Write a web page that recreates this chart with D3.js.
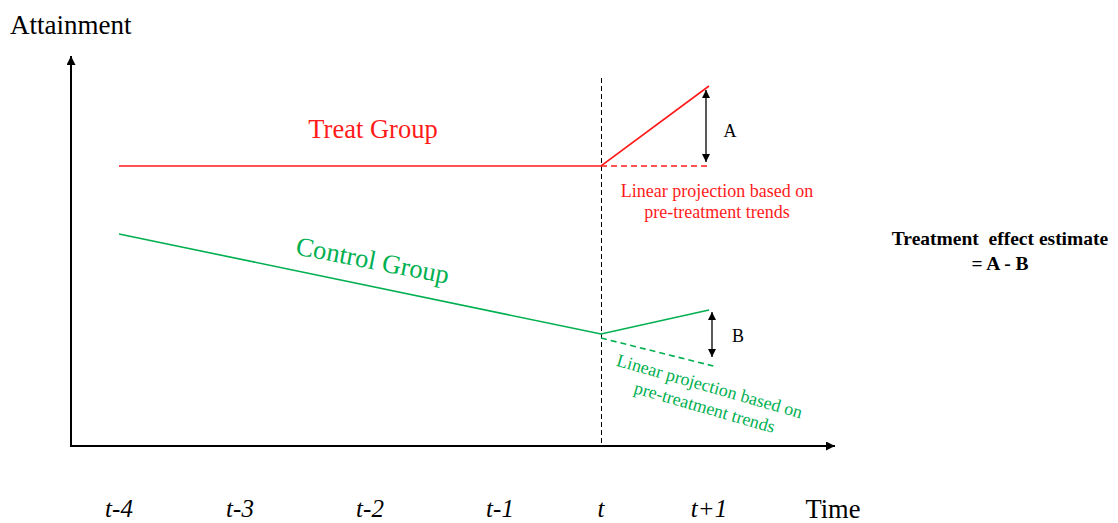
<!DOCTYPE html>
<html lang="en">
<head>
  <meta charset="UTF-8">
  <title>Difference in differences</title>
  <style>
    body { margin: 0; background: #fff; }
    text { font-family: "Liberation Serif", "Times New Roman", serif; }
  </style>
</head>
<body>
  <script src="https://d3js.org/d3.v7.min.js"></script>
  <script>

    // time periods and their labels
    const periods = [-4, -3, -2, -1, 0, 1]
    const tickLabels = ['t-4', 't-3', 't-2', 't-1', 't', 't+1']

    // attainment (arbitrary units)
    const treatTime = [-4, 0, 1]
    const treatValues = [70, 70, 90]
    const treatProjection = [70, 70]          // at t and t+1

    const controlTime = [-4, 0, 1]
    const controlValues = [53, 28, 34]
    const controlProjection = [27, 20]        // at t and t+1

    const width = 1118, height = 523
    const red = '#ff1a1a', green = '#00b050'

    const svg = d3.select('body')
      .append('svg')
      .attr('width', width)
      .attr('height', height)

    const x = d3.scaleLinear()
      .domain(periods)
      .range([119, 240, 370, 500, 601, 709])

    const y = d3.scaleLinear()
      .domain([0, 100])
      .range([446, 46])

    const line = d3.line()
      .x(d => x(d[0]))
      .y(d => y(d[1]))

    const defs = svg.append('defs')
    defs.append('marker')
      .attr('id', 'head')
      .attr('viewBox', '0 0 10 10')
      .attr('refX', 10).attr('refY', 5)
      .attr('markerWidth', 9).attr('markerHeight', 9)
      .attr('markerUnits', 'userSpaceOnUse')
      .attr('orient', 'auto-start-reverse')
      .append('path')
      .attr('d', 'M0,0L10,5L0,10Z')
      .attr('fill', '#000')

    defs.append('marker')
      .attr('id', 'small')
      .attr('viewBox', '0 0 10 10')
      .attr('refX', 10).attr('refY', 5)
      .attr('markerWidth', 8).attr('markerHeight', 8)
      .attr('markerUnits', 'userSpaceOnUse')
      .attr('orient', 'auto-start-reverse')
      .append('path')
      .attr('d', 'M0,0L10,5L0,10Z')
      .attr('fill', '#000')

    // axes
    svg.append('line')
      .attr('x1', 71).attr('y1', y(0))
      .attr('x2', 71).attr('y2', 56)
      .attr('stroke', '#000').attr('stroke-width', 2)
      .attr('marker-end', 'url(#head)')
    svg.append('line')
      .attr('x1', 70).attr('y1', y(0))
      .attr('x2', 835).attr('y2', y(0))
      .attr('stroke', '#000').attr('stroke-width', 2)
      .attr('marker-end', 'url(#head)')

    svg.append('text')
      .attr('x', 10).attr('y', 34)
      .attr('font-size', 27)
      .text('Attainment')

    svg.append('text')
      .attr('x', 833).attr('y', 518)
      .attr('text-anchor', 'middle')
      .attr('font-size', 26.5)
      .text('Time')

    svg.append('g')
      .selectAll('text')
      .data(periods)
      .join('text')
      .attr('x', d => x(d))
      .attr('y', 517)
      .attr('text-anchor', 'middle')
      .attr('font-size', 25)
      .attr('font-style', 'italic')
      .text((d, i) => tickLabels[i])

    // treatment moment
    svg.append('line')
      .attr('x1', x(0) + 0.5).attr('y1', 78)
      .attr('x2', x(0) + 0.5).attr('y2', y(0))
      .attr('stroke', '#000').attr('stroke-width', 1)
      .attr('stroke-dasharray', '5,3')

    // treat group
    svg.append('path')
      .attr('d', line(treatTime.map((t, i) => [t, treatValues[i]])))
      .attr('fill', 'none').attr('stroke', red).attr('stroke-width', 1.6)
    svg.append('path')
      .attr('d', line([[0, treatProjection[0]], [1, treatProjection[1]]]))
      .attr('fill', 'none').attr('stroke', red).attr('stroke-width', 1.6)
      .attr('stroke-dasharray', '6,4')

    svg.append('text')
      .attr('x', 373).attr('y', 138)
      .attr('text-anchor', 'middle')
      .attr('font-size', 26.5)
      .attr('fill', red)
      .text('Treat Group')

    svg.append('line')
      .attr('x1', 706).attr('y1', y(treatValues[2]) + 4)
      .attr('x2', 706).attr('y2', y(treatProjection[1]) - 4)
      .attr('stroke', '#000').attr('stroke-width', 1.3)
      .attr('marker-start', 'url(#small)')
      .attr('marker-end', 'url(#small)')
    svg.append('text')
      .attr('x', 730).attr('y', 137)
      .attr('text-anchor', 'middle')
      .attr('font-size', 18)
      .text('A')

    svg.append('g')
      .selectAll('text')
      .data(['Linear projection based on', 'pre-treatment trends'])
      .join('text')
      .attr('x', 717)
      .attr('y', (d, i) => 197 + i * 21)
      .attr('text-anchor', 'middle')
      .attr('font-size', 18)
      .attr('fill', red)
      .text(d => d)

    // control group
    svg.append('path')
      .attr('d', line(controlTime.map((t, i) => [t, controlValues[i]])))
      .attr('fill', 'none').attr('stroke', green).attr('stroke-width', 1.6)
    svg.append('path')
      .attr('d', line([[0, controlProjection[0]], [1.04, controlProjection[1]]]))
      .attr('fill', 'none').attr('stroke', green).attr('stroke-width', 1.6)
      .attr('stroke-dasharray', '6,4')

    svg.append('text')
      .attr('transform', 'translate(371,269) rotate(11)')
      .attr('text-anchor', 'middle')
      .attr('font-size', 26.5)
      .attr('fill', green)
      .text('Control Group')

    svg.append('line')
      .attr('x1', 712).attr('y1', y(controlValues[2]) + 2)
      .attr('x2', 712).attr('y2', 357)
      .attr('stroke', '#000').attr('stroke-width', 1.3)
      .attr('marker-start', 'url(#small)')
      .attr('marker-end', 'url(#small)')
    svg.append('text')
      .attr('x', 738).attr('y', 342)
      .attr('text-anchor', 'middle')
      .attr('font-size', 18)
      .text('B')

    svg.append('g')
      .selectAll('text')
      .data(['Linear projection based on', 'pre-treatment trends'])
      .join('text')
      .attr('transform', (d, i) => `translate(${708 - i * 5},${392 + i * 21}) rotate(16)`)
      .attr('text-anchor', 'middle')
      .attr('font-size', 18)
      .attr('fill', green)
      .text(d => d)

    // estimate note
    svg.append('g')
      .selectAll('text')
      .data(['Treatment\u00a0\u00a0effect estimate', '= A - B'])
      .join('text')
      .attr('x', 1000)
      .attr('y', (d, i) => 245 + i * 25)
      .attr('text-anchor', 'middle')
      .attr('font-size', 19.5)
      .attr('font-weight', 'bold')
      .text(d => d)

  </script>
</body>
</html>
